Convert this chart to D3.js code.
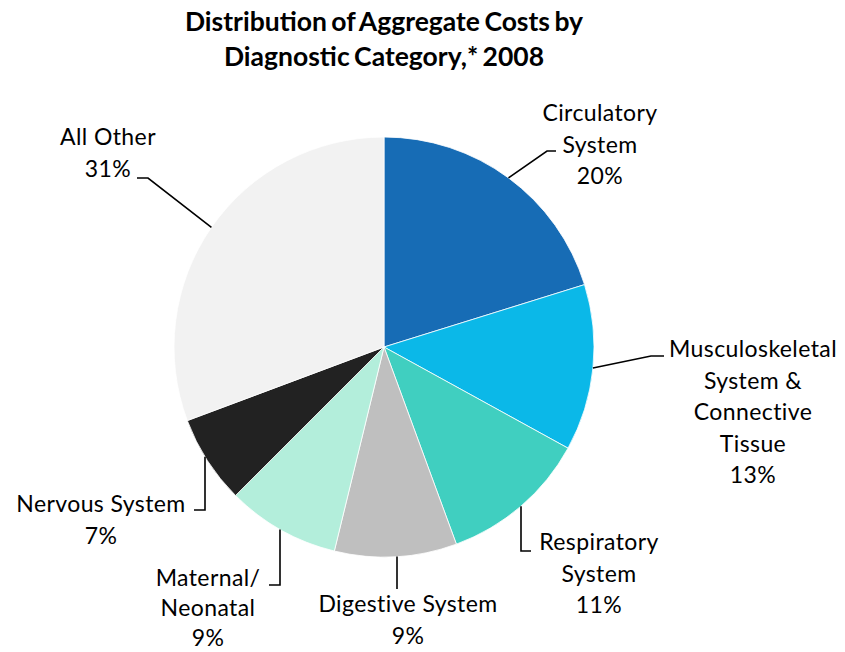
<!DOCTYPE html>
<html>
<head>
<meta charset="utf-8">
<script src="https://cdn.jsdelivr.net/npm/d3@7"></script>
<style>
  body { margin: 0; background: #fff; }
  svg { display: block; }
</style>
</head>
<body>
<div id="chart"></div>
<script>
// data (shares of aggregate cost, %)
categories = ["Circulatory System", "Musculoskeletal System & Connective Tissue", "Respiratory System",
    "Digestive System", "Maternal/ Neonatal", "Nervous System", "All Other"]
values = [20.2, 12.8, 11.4, 9.4, 8.7, 6.8, 30.7]
labelLines = [
    ["Circulatory", "System"],
    ["Musculoskeletal", "System &", "Connective", "Tissue"],
    ["Respiratory", "System"],
    ["Digestive System"],
    ["Maternal/", "Neonatal"],
    ["Nervous System"],
    ["All Other"],
]
titleLines = ["Distribution of Aggregate Costs by", "Diagnostic Category,* 2008"]

colors = ["#176cb5", "#0bb8e8", "#40cfc0", "#bfbfbf", "#b3eedb", "#222222", "#f2f2f2"]

// label placement: text centre x, first baseline y, line step, leader elbow and end
layout = [
    { tx: 600, ty: 121, lh: 31.5, kind: "d", elbow: [547, 151], end: [556, 151] },
    { tx: 753, ty: 357, lh: 31.5, kind: "d", elbow: [651, 356], end: [664, 356] },
    { tx: 599, ty: 550, lh: 31.5, kind: "v", elbow: [521, 551], end: [531, 551] },
    { tx: 408, ty: 612, lh: 31.5, kind: "v", elbow: [397, 589], end: [397, 589] },
    { tx: 208, ty: 586, lh: 30, kind: "v", elbow: [280, 585], end: [269, 585] },
    { tx: 101, ty: 512, lh: 31.5, kind: "v", elbow: [205, 510], end: [194, 510] },
    { tx: 108, ty: 145, lh: 31.5, kind: "d", elbow: [148, 178], end: [137, 178] },
]

const width = 845, height = 652
const cx = 384, cy = 347, r = 210

var svg = d3.select("#chart").append("svg")
    .attr("width", width).attr("height", height)
    .style("font-family", "Lato, 'Open Sans', sans-serif")

svg.append("g").selectAll("text")
    .data(titleLines)
    .join("text")
    .attr("x", 384).attr("y", (d, i) => 31 + i * 35)
    .attr("text-anchor", "middle")
    .attr("font-size", 26.5).attr("font-weight", 700)
    .attr("word-spacing", -2)
    .attr("fill", "#000")
    .text(d => d)

const data = categories.map((c, i) => ({ name: c, value: values[i], i: i }))
const pie = d3.pie().value(d => d.value).sort(null)
const arc = d3.arc().innerRadius(0).outerRadius(r)
const arcs = pie(data)

var g = svg.append("g").attr("transform", `translate(${cx},${cy})`)
g.selectAll("path")
    .data(arcs)
    .join("path")
    .attr("d", arc)
    .attr("fill", d => colors[d.data.i])
    .attr("stroke", "#fff").attr("stroke-width", 0.8)

// leader lines
const line = d3.line()
arcs.forEach((a, i) => {
    const L = layout[i]
    let start
    if (L.kind == "v") {
        const dx = L.elbow[0] - cx
        start = [L.elbow[0], cy + Math.sqrt(r * r - dx * dx)]
    } else {
        const mid = (a.startAngle + a.endAngle) / 2
        start = [cx + r * Math.sin(mid), cy - r * Math.cos(mid)]
    }
    svg.append("path")
        .attr("d", line([start, L.elbow, L.end]))
        .attr("fill", "none").attr("stroke", "#000").attr("stroke-width", 1.6)
})

// labels
arcs.forEach((a, i) => {
    const L = layout[i]
    const lines = labelLines[i].concat([Math.round(a.data.value) + "%"])
    svg.append("g").selectAll("text")
        .data(lines)
        .join("text")
        .attr("x", L.tx).attr("y", (d, k) => L.ty + k * L.lh)
        .attr("text-anchor", "middle")
        .attr("font-size", 23)
        .attr("letter-spacing", 0.4)
        .attr("fill", "#000")
        .text(d => d)
})
</script>
</body>
</html>
